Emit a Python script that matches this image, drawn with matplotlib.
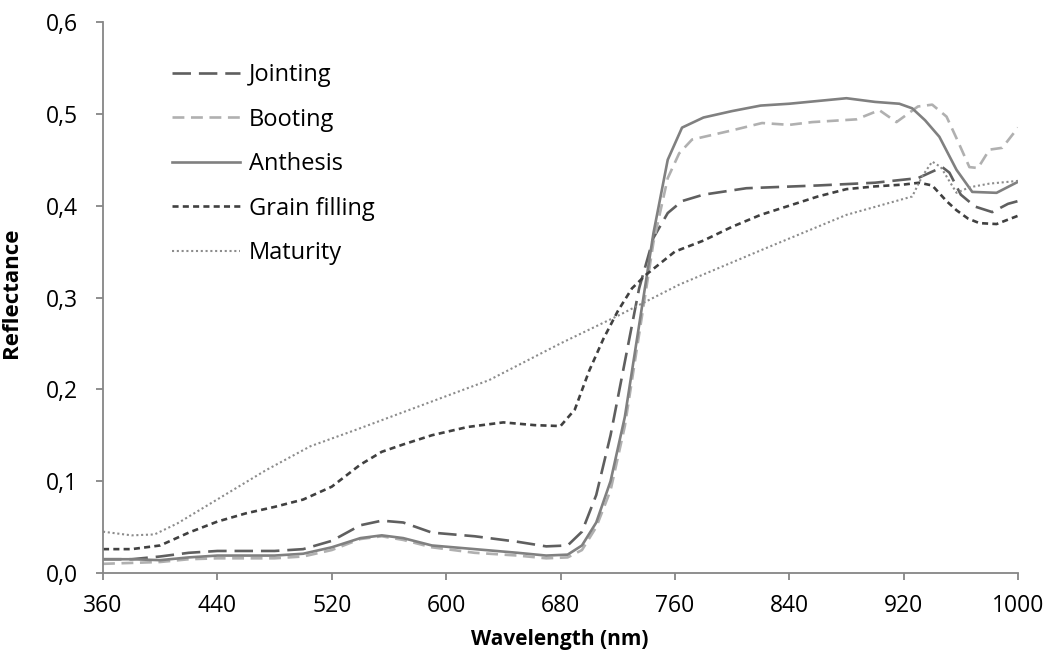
import matplotlib
matplotlib.use("Agg")
import matplotlib.pyplot as plt
from matplotlib.ticker import FuncFormatter

plt.rcParams['font.family'] = ['Open Sans', 'DejaVu Sans']

# spectral reflectance of the crop at five growth stages
wl_jointing = [360, 380, 400, 420, 440, 460, 480, 500, 520, 540, 555, 570, 590, 620, 650, 670,
               685, 695, 705, 715, 725, 735, 745, 755, 765, 780, 810, 860, 900, 930, 947, 952,
               960, 970, 982, 993, 1000]
jointing = [0.015, 0.015, 0.018, 0.022, 0.024, 0.024, 0.024, 0.026, 0.035, 0.052, 0.057, 0.055,
            0.044, 0.040, 0.034, 0.029, 0.030, 0.045, 0.085, 0.150, 0.230, 0.310, 0.365, 0.392,
            0.405, 0.412, 0.419, 0.422, 0.425, 0.430, 0.442, 0.436, 0.412, 0.399, 0.393, 0.402,
            0.405]

wl_booting = [360, 380, 400, 420, 440, 460, 480, 500, 520, 540, 555, 570, 590, 620, 650, 670,
              685, 695, 705, 715, 725, 735, 745, 755, 763, 772, 800, 821, 840, 856, 887, 903,
              915, 930, 940, 950, 958, 966, 972, 980, 989, 1000]
booting = [0.010, 0.011, 0.012, 0.015, 0.016, 0.016, 0.016, 0.018, 0.025, 0.037, 0.040, 0.036,
           0.028, 0.022, 0.019, 0.016, 0.017, 0.025, 0.050, 0.090, 0.160, 0.260, 0.360, 0.430,
           0.457, 0.472, 0.482, 0.490, 0.488, 0.491, 0.494, 0.504, 0.491, 0.508, 0.510, 0.497,
           0.470, 0.442, 0.441, 0.461, 0.463, 0.485]

wl_anthesis = [360, 380, 400, 420, 440, 460, 480, 500, 520, 540, 555, 570, 590, 620, 650, 670,
               685, 695, 705, 715, 725, 735, 745, 755, 765, 780, 800, 820, 840, 860, 880, 900,
               917, 926, 935, 945, 957, 968, 985, 1000]
anthesis = [0.015, 0.015, 0.014, 0.017, 0.019, 0.019, 0.019, 0.021, 0.028, 0.038, 0.041, 0.038,
            0.030, 0.026, 0.022, 0.019, 0.020, 0.030, 0.055, 0.100, 0.170, 0.270, 0.370, 0.450,
            0.485, 0.496, 0.503, 0.509, 0.511, 0.514, 0.517, 0.513, 0.511, 0.506, 0.493, 0.475,
            0.439, 0.415, 0.414, 0.426]

wl_grain = [360, 380, 400, 420, 440, 460, 480, 500, 520, 540, 555, 570, 590, 615, 640, 662,
            680, 690, 700, 710, 720, 730, 740, 760, 780, 800, 820, 840, 860, 880, 900, 920,
            931, 940, 950, 957, 965, 973, 985, 1000]
grain_filling = [0.026, 0.026, 0.030, 0.044, 0.056, 0.065, 0.072, 0.080, 0.094, 0.118, 0.132,
                 0.140, 0.150, 0.159, 0.164, 0.161, 0.160, 0.178, 0.220, 0.255, 0.285, 0.310,
                 0.325, 0.350, 0.362, 0.377, 0.390, 0.400, 0.410, 0.418, 0.421, 0.423, 0.425,
                 0.422, 0.405, 0.395, 0.386, 0.381, 0.380, 0.389]

wl_maturity = [360, 380, 396, 412, 443, 474, 505, 537, 568, 599, 630, 680, 720, 763, 821, 880,
               926, 933, 940, 946, 957, 966, 980, 1000]
maturity = [0.045, 0.041, 0.042, 0.054, 0.083, 0.112, 0.138, 0.156, 0.174, 0.192, 0.210, 0.250,
            0.280, 0.314, 0.352, 0.390, 0.410, 0.432, 0.448, 0.442, 0.414, 0.420, 0.424, 0.427]

x_ticks = [360, 440, 520, 600, 680, 760, 840, 920, 1000]
y_ticks = [0.0, 0.1, 0.2, 0.3, 0.4, 0.5, 0.6]

fig = plt.figure(figsize=(10.47, 6.53), dpi=100)
ax = fig.add_axes([0.0984, 0.1225, 0.8739, 0.8438])

lw = 1.9
ax.plot(wl_jointing, jointing, color='#5f5f5f', lw=lw, ls=(0, (7, 3)), label='Jointing')
ax.plot(wl_booting, booting, color='#b0b0b0', lw=lw, ls=(0, (4.5, 2.5)), label='Booting')
ax.plot(wl_anthesis, anthesis, color='#808080', lw=lw, ls='-', label='Anthesis')
ax.plot(wl_grain, grain_filling, color='#404040', lw=lw, ls=(0, (2.3, 1.6)), label='Grain filling')
ax.plot(wl_maturity, maturity, color='#8c8c8c', lw=1.5, ls=(0, (1, 1.3)), label='Maturity')

ax.set_xlim(360, 1000)
ax.set_ylim(0, 0.6)
ax.set_xticks(x_ticks)
ax.set_yticks(y_ticks)
ax.yaxis.set_major_formatter(FuncFormatter(lambda v, p: f"{v:.1f}".replace('.', ',')))

for side in ['top', 'right']:
    ax.spines[side].set_visible(False)
for side in ['left', 'bottom']:
    ax.spines[side].set_color('#868686')
    ax.spines[side].set_linewidth(1.3)
ax.tick_params(axis='both', direction='out', length=5, width=1.3, color='#868686',
               labelsize=16.5, labelcolor='black')
ax.tick_params(axis='y', pad=13)
ax.tick_params(axis='x', pad=10)

ax.set_xlabel('Wavelength (nm)', fontsize=15, fontweight='bold')
ax.set_ylabel('Reflectance', fontsize=16, fontweight='bold')
ax.xaxis.set_label_coords(0.4995, -0.102)
ax.yaxis.set_label_coords(-0.0885, 0.508)

ax.legend(loc='upper left', bbox_to_anchor=(0.1643, 0.9035), bbox_transform=fig.transFigure,
          frameon=False, fontsize=17, handlelength=2.9, handletextpad=0.35,
          labelspacing=0.87, borderpad=0, borderaxespad=0)

fig.savefig('out.png', dpi=100)
